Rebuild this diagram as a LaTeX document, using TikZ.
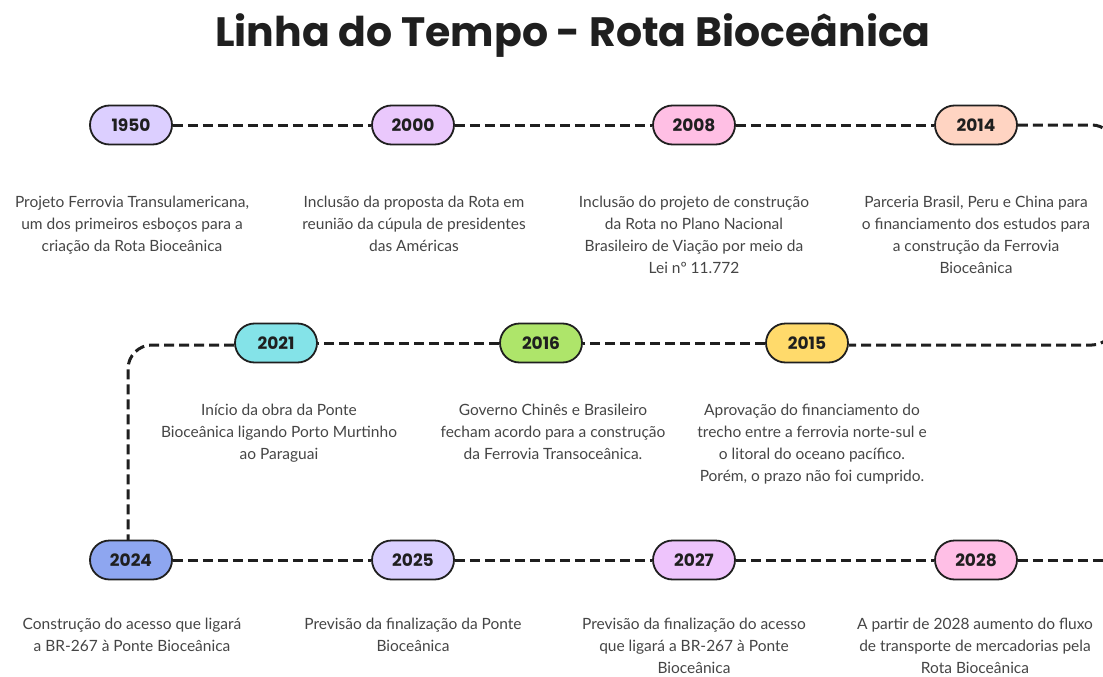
\documentclass[tikz,border=0pt]{standalone}
\usepackage{fontspec}
\setmainfont{Poppins}
\newfontfamily\bodyfont{Lato}
\definecolor{ink}{HTML}{1F1F1F}
\definecolor{txt}{HTML}{454545}
\definecolor{cA}{HTML}{DCCFFF}
\definecolor{cB}{HTML}{EAC8FC}
\definecolor{cC}{HTML}{FFBFE4}
\definecolor{cD}{HTML}{FFD4C2}
\definecolor{cE}{HTML}{84E3E8}
\definecolor{cF}{HTML}{AEE56A}
\definecolor{cG}{HTML}{FFDA6B}
\definecolor{cH}{HTML}{8EA6F0}
\definecolor{cI}{HTML}{DAD0FF}
\definecolor{cJ}{HTML}{EEC4FC}
\definecolor{cK}{HTML}{FFBFE6}
\begin{document}
\begin{tikzpicture}[x=1pt,y=-1pt,
  pill/.style={draw=ink, line width=1.8pt, rounded corners=19.5pt, minimum width=82pt, minimum height=39pt, inner sep=0pt, font=\fontsize{17}{19}\selectfont\bfseries, text=ink},
  desc/.style={align=center, anchor=north, text=txt, font=\bodyfont\fontsize{15.5}{22}\selectfont, inner sep=0pt},
  tl/.style={draw=ink, line width=3pt, dash pattern=on 10pt off 5pt}
]
\useasboundingbox (0,0) rectangle (1103,677);
\clip (0,0) rectangle (1103,677);
\node[font=\fontsize{41}{44}\selectfont\bfseries, text=ink] (title) at (573,36) {Linha do Tempo - Rota Bioceânica};

\node[pill, fill=cA] (y1950) at (131,125) {1950};
\node[pill, fill=cB] (y2000) at (413,125) {2000};
\node[pill, fill=cC] (y2008) at (694,125) {2008};
\node[pill, fill=cD] (y2014) at (976,125) {2014};
\node[pill, fill=cE] (y2021) at (276,343) {2021};
\node[pill, fill=cF] (y2016) at (541,343) {2016};
\node[pill, fill=cG] (y2015) at (807,343) {2015};
\node[pill, fill=cH] (y2024) at (131,560) {2024};
\node[pill, fill=cI] (y2025) at (413,560) {2025};
\node[pill, fill=cJ] (y2027) at (694,560) {2027};
\node[pill, fill=cK] (y2028) at (976,560) {2028};

\coordinate (rtop) at (1114,125);
\coordinate (rbot) at (1114,345);
\coordinate (lcor) at (128,345);
\coordinate (lend) at (128,540.5);
\coordinate (rend) at (1110,560);

\draw[tl] (y1950) -- (y2000);
\draw[tl] (y2000) -- (y2008);
\draw[tl] (y2008) -- (y2014);
\draw[tl, rounded corners=22pt] (y2014.east) -- (rtop) -- (rbot) -- (y2015.east |- rbot);
\draw[tl] (y2015) -- (y2016);
\draw[tl] (y2016) -- (y2021);
\draw[tl, rounded corners=24pt] (y2021.west |- lcor) -- (lcor) -- (lend);
\draw[tl] (y2024) -- (y2025);
\draw[tl] (y2025) -- (y2027);
\draw[tl] (y2027) -- (y2028);
\draw[tl] (y2028.east) -- (rend);

\node[desc] (d1950) at (132,196) {Projeto Ferrovia Transulamericana,\\um dos primeiros esboços para a\\criação da Rota Bioceânica};
\node[desc] (d2000) at (414,196) {Inclusão da proposta da Rota em\\reunião da cúpula de presidentes\\das Américas};
\node[desc] (d2008) at (694,196) {Inclusão do projeto de construção\\da Rota no Plano Nacional\\Brasileiro de Viação por meio da\\Lei nº 11.772};
\node[desc] (d2014) at (976,196) {Parceria Brasil, Peru e China para\\o financiamento dos estudos para\\a construção da Ferrovia\\Bioceânica};
\node[desc] (d2021) at (279,404) {Início da obra da Ponte\\Bioceânica ligando Porto Murtinho\\ao Paraguai};
\node[desc] (d2016) at (553,404) {Governo Chinês e Brasileiro\\fecham acordo para a construção\\da Ferrovia Transoceânica.};
\node[desc] (d2015) at (812,404) {Aprovação do financiamento do\\trecho entre a ferrovia norte-sul e\\o litoral do oceano pacífico.\\Porém, o prazo não foi cumprido.};
\node[desc] (d2024) at (132,618) {Construção do acesso que ligará\\a BR-267 à Ponte Bioceânica};
\node[desc] (d2025) at (413,618) {Previsão da finalização da Ponte\\Bioceânica};
\node[desc] (d2027) at (694,618) {Previsão da finalização do acesso\\que ligará a BR-267 à Ponte\\Bioceânica};
\node[desc] (d2028) at (975,618) {A partir de 2028 aumento do fluxo\\de transporte de mercadorias pela\\Rota Bioceânica};
\end{tikzpicture}
\end{document}
